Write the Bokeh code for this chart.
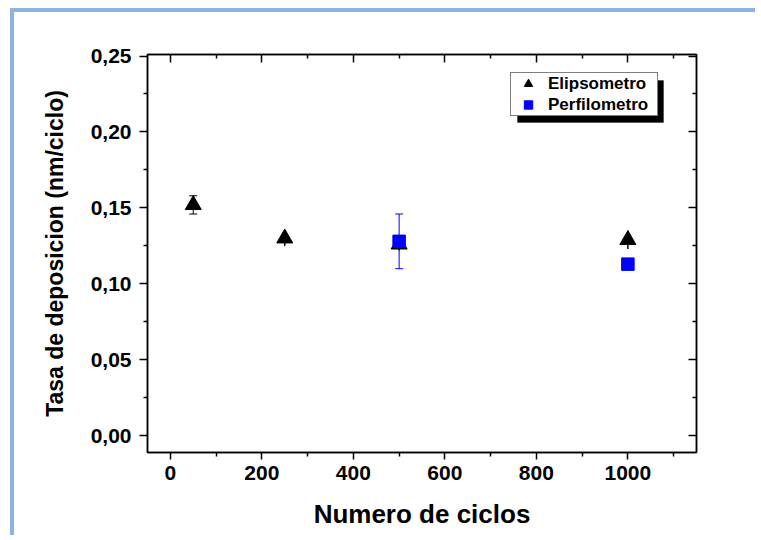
from bokeh.plotting import figure
from bokeh.models import (ColumnDataSource, Whisker, TeeHead, Legend, LegendItem,
                          LinearAxis, FixedTicker, Range1d, BoxAnnotation, CustomJSTickFormatter)
from bokeh.embed import file_html
from bokeh.resources import INLINE

# ---- data ----
elip_x = [50, 250, 500, 1000]
elip_y = [0.152, 0.130, 0.126, 0.129]
elip_err = [0.006, 0.005, 0.004, 0.006]

perf_x = [500, 1000]
perf_y = [0.128, 0.113]
perf_err = [0.018, 0.002]

x_ticks = [0, 200, 400, 600, 800, 1000]
x_minor = [100, 300, 500, 700, 900, 1100]
y_ticks = [0.0, 0.05, 0.10, 0.15, 0.20, 0.25]
y_minor = [0.025, 0.075, 0.125, 0.175, 0.225]
y_tick_labels = ["0,00", "0,05", "0,10", "0,15", "0,20", "0,25"]
x_tick_labels = ["0", "200", "400", "600", "800", "1000"]

FONT = "Liberation Sans"
BLUE_FRAME = "#8DB3E2"

p = figure(width=745, height=527, output_backend="svg", toolbar_location=None,
           x_range=Range1d(-50, 1150), y_range=Range1d(-0.011, 0.251),
           min_border_left=133, min_border_right=63, min_border_top=42, min_border_bottom=87)
p.styles = {"margin-left": "10px", "margin-top": "8px",
            "border-left": f"4px solid {BLUE_FRAME}", "border-top": f"4px solid {BLUE_FRAME}"}
p.grid.visible = False
p.outline_line_color = "black"
p.outline_line_width = 1.5
p.background_fill_color = "white"
p.border_fill_color = "white"

def err_source(xs, ys, es):
    return ColumnDataSource(dict(x=xs, y=ys,
                                 lo=[v - e for v, e in zip(ys, es)],
                                 hi=[v + e for v, e in zip(ys, es)]))

e_src = err_source(elip_x, elip_y, elip_err)
# first point shows capped bars; the others show only the bar stem
e_src_cap = err_source(elip_x[:1], elip_y[:1], elip_err[:1])
e_src_stem = err_source(elip_x[1:], elip_y[1:], elip_err[1:])
p_src = err_source(perf_x, perf_y, perf_err)

p.add_layout(Whisker(source=e_src_cap, base="x", lower="lo", upper="hi", line_color="black", line_width=1,
                     upper_head=TeeHead(size=8, line_color="black", line_width=1),
                     lower_head=TeeHead(size=8, line_color="black", line_width=1)))
p.add_layout(Whisker(source=e_src_stem, base="x", lower="lo", upper="hi", line_color="black", line_width=1.5,
                     upper_head=None, lower_head=None))

tri = p.scatter("x", "y", source=e_src, marker="triangle", size=16,
                fill_color="black", line_color="black")

p.add_layout(Whisker(source=p_src, base="x", lower="lo", upper="hi", line_color="blue", line_width=1,
                     upper_head=TeeHead(size=8, line_color="blue", line_width=1),
                     lower_head=TeeHead(size=8, line_color="blue", line_width=1)))
sq = p.scatter("x", "y", source=p_src, marker="square", size=12.5,
               fill_color="blue", line_color="blue")

# axes styling
def style_axis(ax, out_major, in_major, out_minor, in_minor):
    ax.axis_line_color = "black"
    ax.axis_line_width = 1.5
    ax.major_tick_line_width = 1.5
    ax.minor_tick_line_width = 1.5
    ax.major_tick_out = out_major
    ax.major_tick_in = in_major
    ax.minor_tick_out = out_minor
    ax.minor_tick_in = in_minor
    ax.major_label_text_font = FONT
    ax.major_label_text_font_style = "bold"
    ax.major_label_text_font_size = "21px"
    ax.major_label_text_color = "black"
    ax.axis_label_text_font = FONT
    ax.axis_label_text_font_style = "bold"
    ax.axis_label_text_color = "black"

xax = p.xaxis[0]
xax.ticker = FixedTicker(ticks=x_ticks, minor_ticks=x_minor)
xax.major_label_overrides = {t: l for t, l in zip(x_ticks, x_tick_labels)}
style_axis(xax, 7, 0, 4, 0)
xax.axis_label = "Numero de ciclos"
xax.axis_label_text_font_size = "26px"
xax.axis_label_standoff = 16
xax.major_label_standoff = 6

yax = p.yaxis[0]
yax.ticker = FixedTicker(ticks=y_ticks, minor_ticks=y_minor)
yax.major_label_overrides = {t: l for t, l in zip(y_ticks, y_tick_labels)}
style_axis(yax, 8, 0, 4, 0)
yax.axis_label = "Tasa de deposicion (nm/ciclo)"
yax.axis_label_text_font_size = "23px"
yax.axis_label_standoff = 20
yax.major_label_standoff = 8

blank = CustomJSTickFormatter(code="return ''")
top = LinearAxis(ticker=FixedTicker(ticks=x_ticks, minor_ticks=x_minor), formatter=blank)
style_axis(top, 0, 8, 0, 4)
top.major_label_text_font_size = "1px"
p.add_layout(top, "above")
right = LinearAxis(ticker=FixedTicker(ticks=y_ticks, minor_ticks=y_minor), formatter=blank)
style_axis(right, 0, 8, 0, 4)
right.major_label_text_font_size = "1px"
p.add_layout(right, "right")

# legend drop shadow (screen units, relative to the plot frame)
p.add_layout(BoxAnnotation(left=370, right=516, bottom=330, top=372,
                           left_units="screen", right_units="screen",
                           top_units="screen", bottom_units="screen",
                           fill_color="black", fill_alpha=1, line_color="black"), "center")

items = [LegendItem(label="Elipsometro", renderers=[tri]),
         LegendItem(label="Perfilometro", renderers=[sq])]
legend = Legend(items=items, location=(363, 336), padding=0, margin=0, spacing=0,
                glyph_width=34, glyph_height=21, label_height=21, label_width=109,
                label_standoff=3, label_text_font=FONT, label_text_font_style="bold",
                label_text_font_size="17px", label_text_color="black",
                border_line_color="black", border_line_width=1,
                background_fill_color="white", background_fill_alpha=1.0)
p.add_layout(legend, "center")

open("out.html", "w").write(file_html(p, INLINE))
